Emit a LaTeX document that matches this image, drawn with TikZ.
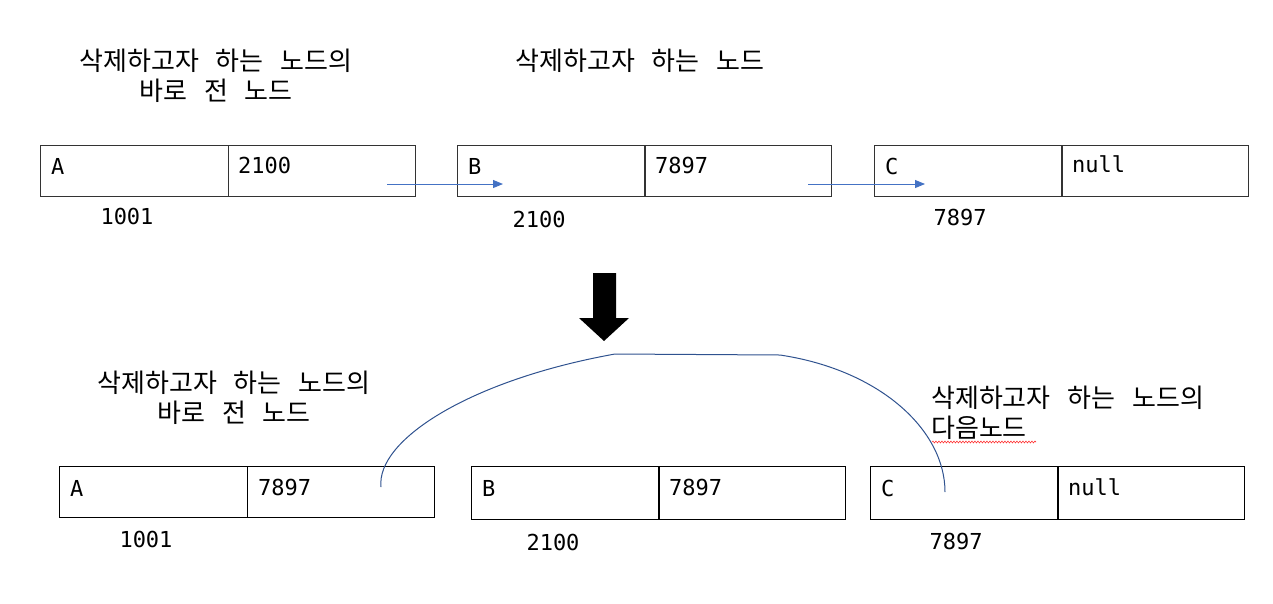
\documentclass[tikz,border=0pt]{standalone}
\usepackage{fontspec}
\setmainfont{DejaVu Sans Mono}
\newfontfamily\kr[WordSpace={2.9,0,0}]{Noto Sans CJK KR}
\usetikzlibrary{arrows.meta,decorations.pathmorphing}
\definecolor{arrowblue}{HTML}{4472C4}
\definecolor{curveblue}{HTML}{2F528F}
\begin{document}
\begin{tikzpicture}[x=1pt,y=-1pt,
  cell/.style={draw=black!80,line width=1.3pt,minimum height=51pt,inner sep=0pt,anchor=north west},
  lcell/.style={cell,minimum width=188pt},
  rcell/.style={cell,minimum width=187pt},
  lbl/.style={font=\fontsize{22}{26}\selectfont,inner sep=0pt,anchor=west},
  addr/.style={font=\fontsize{22}{26}\selectfont,inner sep=0pt},
  head/.style={font=\kr\fontsize{26}{30}\selectfont,inner sep=0pt,align=center},
  link/.style={arrowblue,line width=1pt,-{Triangle[length=10pt,width=8pt]}},
]
\useasboundingbox (0,0) rectangle (1273,603);

% ---------- top row ----------
\node[head] (h1) at (216,76) {삭제하고자 하는 노드의\\바로 전 노드};
\node[head] (h2) at (640,61) {삭제하고자 하는 노드};

\node[lcell] (a1) at (40,145) {};
\node[rcell] (a2) at (228,145) {};
\node[lbl] (ta1) at (51,166) {A};
\node[lbl] (ta2) at (238,165) {2100};
\node[addr] (aa) at (127,216) {1001};

\node[lcell] (b1) at (457,145) {};
\node[rcell] (b2) at (644,145) {};
\node[lbl] (tb1) at (468,166) {B};
\node[lbl] (tb2) at (655,165) {7897};
\node[addr] (ab) at (539,219) {2100};

\node[lcell] (c1) at (874,145) {};
\node[rcell] (c2) at (1061,145) {};
\node[lbl] (tc1) at (885,166) {C};
\node[lbl] (tc2) at (1072,164) {null};
\node[addr] (ac) at (960,217) {7897};

\coordinate (s1) at (387,184);
\coordinate (e1) at (503,184);
\coordinate (s2) at (808,184);
\coordinate (e2) at (925,184);
\draw[link] (s1) -- (e1);
\draw[link] (s2) -- (e2);

% ---------- big down arrow ----------
\fill[black] (593,273) -- (616,273) -- (616,318) -- (629,318) -- (604,341) -- (579,318) -- (593,318) -- cycle;

% ---------- bottom row ----------
\node[head] (h3) at (234,398) {삭제하고자 하는 노드의\\바로 전 노드};
\node[head,align=left,anchor=west] (h4) at (931,413) {삭제하고자 하는 노드의\\다음노드};

\node[lcell,draw=black] (d1) at (59,466) {};
\node[rcell,draw=black] (d2) at (247,466) {};
\node[lbl] (td1) at (70,488) {A};
\node[lbl] (td2) at (258,487) {7897};
\node[addr] (ad) at (146,539) {1001};

\node[lcell,draw=black,minimum height=53pt] (f1) at (471,466) {};
\node[rcell,draw=black,minimum height=53pt] (f2) at (658,466) {};
\node[lbl] (tf1) at (482,488) {B};
\node[lbl] (tf2) at (669,487) {7897};
\node[addr] (af) at (553,542) {2100};

\node[lcell,draw=black,minimum height=53pt] (g1) at (870,466) {};
\node[rcell,draw=black,minimum height=53pt] (g2) at (1057,466) {};
\node[lbl] (tg1) at (881,488) {C};
\node[lbl] (tg2) at (1068,487) {null};
\node[addr] (ag) at (956,541) {7897};

% red wavy underline
\coordinate (u1) at (932,442);
\coordinate (u2) at (1036,442);
\draw[red!80,line width=0.6pt,decorate,decoration={snake,amplitude=0.9pt,segment length=3pt}] (u1) -- (u2);

% curve
\coordinate (cs) at (381,487);
\coordinate (ce) at (945,492);
\draw[curveblue,line width=1pt] (cs) .. controls (376,440) and (470,380) .. (615,354)
  -- (780,355) .. controls (880,370) and (945,430) .. (ce);
\end{tikzpicture}
\end{document}
